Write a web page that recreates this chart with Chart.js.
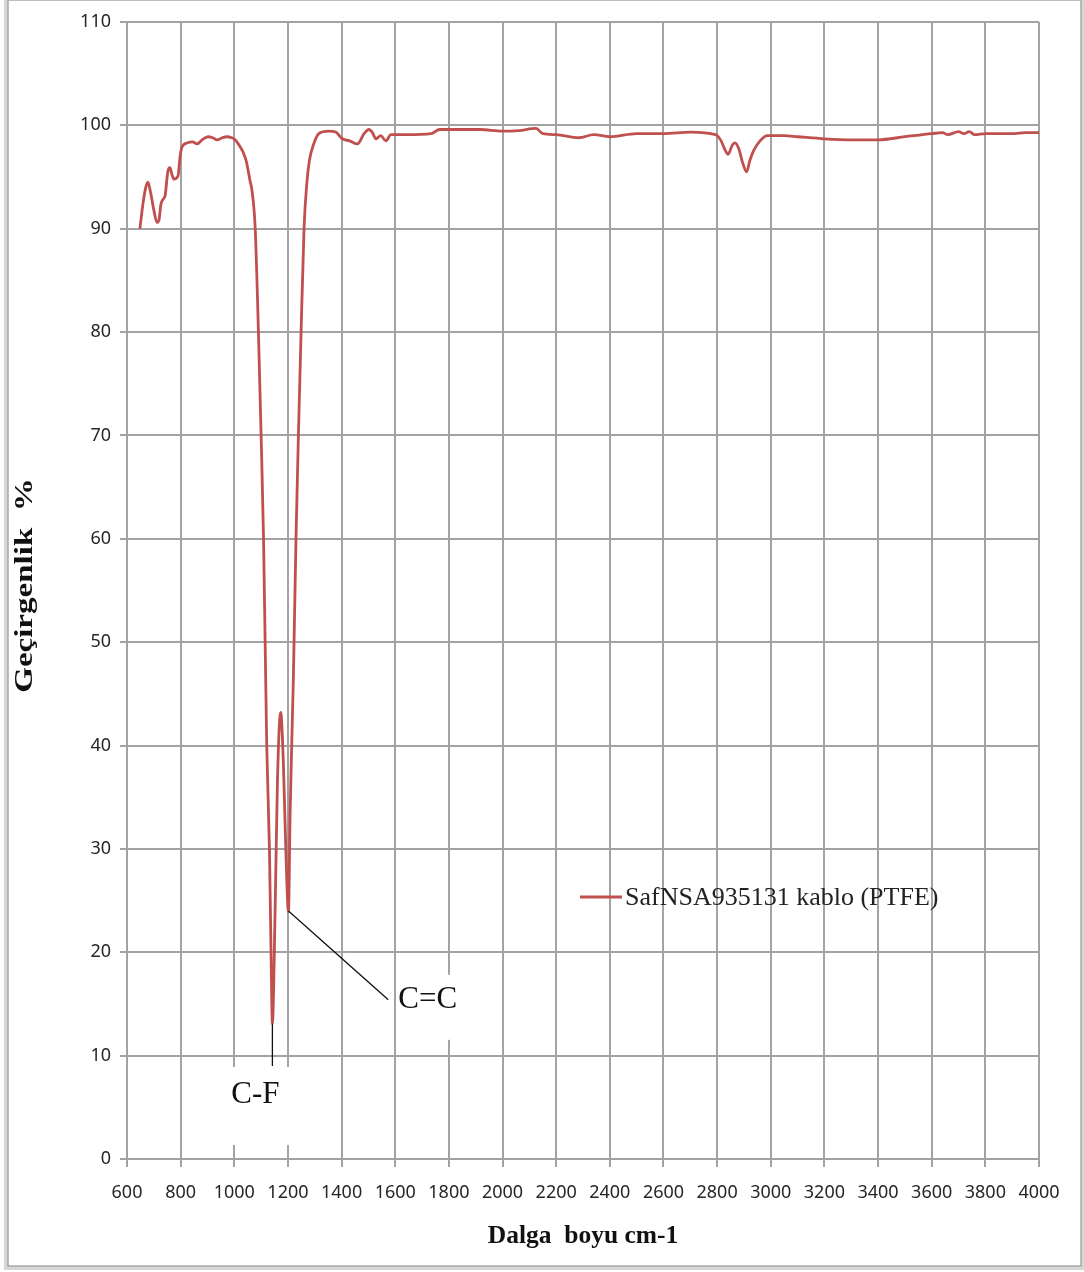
<!DOCTYPE html>
<html>
<head>
<meta charset="utf-8">
<title>Geçirgenlik - PTFE</title>
<script src="https://cdn.jsdelivr.net/npm/chart.js@4.4.1/dist/chart.umd.min.js"></script>
<style>
  html, body { margin: 0; padding: 0; background: #fff; }
  canvas { display: block; }
</style>
</head>
<body>
<canvas id="chart" width="1084" height="1272"></canvas>
<script>
const seriesLabel = 'SafNSA935131 kablo (PTFE)';
const xTitle = 'Dalga  boyu cm-1';
const yTitle = 'Geçirgenlik  %';

const xTickValues = [600, 800, 1000, 1200, 1400, 1600, 1800, 2000, 2200, 2400,
  2600, 2800, 3000, 3200, 3400, 3600, 3800, 4000];
const yTickValues = [0, 10, 20, 30, 40, 50, 60, 70, 80, 90, 100, 110];

// wavenumber (cm-1)
const wavenumbers = [
  648, 660, 670, 678, 688, 700, 712, 719, 726, 733, 742, 752, 760, 768, 775, 790,
  798, 805, 824, 845, 861, 880, 902, 920, 936, 955, 973, 990, 1003, 1020, 1033,
  1045, 1059, 1066, 1078, 1090, 1100, 1109, 1115, 1121, 1131, 1137, 1142,
  1152, 1161, 1173, 1183, 1192, 1202, 1208, 1214, 1220, 1230, 1239, 1249, 1260,
  1270, 1280, 1296, 1315, 1352, 1378, 1403, 1430, 1459, 1484, 1502, 1515, 1528,
  1546, 1565, 1584, 1640, 1734, 1765, 1800, 1915, 2000, 2060, 2125, 2150, 2200,
  2285, 2340, 2400, 2500, 2600, 2700, 2794, 2815, 2830, 2841, 2855, 2866, 2880,
  2895, 2910, 2922, 2937, 2960, 2987, 3050, 3100, 3200, 3300, 3400, 3500, 3600,
  3640, 3660, 3700, 3720, 3740, 3760, 3800, 3850, 3900, 3950, 4000
];
// transmittance (%)
const transmittance = [
  90.0, 92.5, 94.0, 94.5, 93.5, 91.8, 90.6, 90.8, 92.3, 92.8, 93.2, 95.5, 95.9, 95.2, 94.8, 95.1,
  97.0, 97.9, 98.3, 98.4, 98.2, 98.6, 98.9, 98.8, 98.6, 98.8, 98.9, 98.8, 98.6, 98.0, 97.4,
  96.5, 94.6, 93.7, 90.0, 80.0, 70.0, 60.0, 50.0, 40.0, 30.0, 20.0, 13.1,
  23.8, 36.7, 43.2, 38.3, 30.0, 23.9, 33.3, 40.0, 46.3, 60.0, 70.0, 80.0, 90.0,
  94.3, 96.6, 98.2, 99.2, 99.45, 99.35, 98.7, 98.5, 98.2, 99.2, 99.6, 99.3, 98.7,
  99.0, 98.5, 99.1, 99.1, 99.2, 99.6, 99.6, 99.6, 99.45, 99.5, 99.7, 99.2, 99.1,
  98.8, 99.1, 98.9, 99.2, 99.2, 99.35, 99.1, 98.5, 97.6, 97.2, 98.0, 98.3, 97.8,
  96.4, 95.5, 96.6, 97.6, 98.5, 99.0, 99.0, 98.9, 98.7, 98.6, 98.6, 98.9, 99.2,
  99.3, 99.1, 99.4, 99.2, 99.4, 99.1, 99.2, 99.2, 99.2, 99.3, 99.3
];

// band labels: [text, peak x, peak y, label x, label y]
const bandLabels = [
  ['C-F', 1142, 13.1, 1142, 9.0],
  ['C=C', 1202, 24.0, 1574, 15.4]
];

const lineColor = '#c0504d';
const gridColor = '#a3a3a3';
const tickFont = { family: '"Noto Sans", sans-serif', size: 18 };

const framePlugin = {
  id: 'frame',
  beforeDraw(chart) {
    const ctx = chart.ctx;
    ctx.save();
    ctx.fillStyle = '#fff';
    ctx.fillRect(0, 0, chart.width, chart.height);
    ctx.strokeStyle = '#d6d6d6';
    ctx.lineWidth = 4;
    ctx.strokeRect(6, -2, 1077, 1270);
    ctx.strokeStyle = '#a8a8a8';
    ctx.lineWidth = 1.5;
    ctx.strokeRect(8, 0, 1073, 1266);
    ctx.restore();
  }
};

// the y title in the picture is stretched along its length
const yTitlePlugin = {
  id: 'yTitle',
  afterDraw(chart) {
    const ctx = chart.ctx;
    const a = chart.chartArea;
    ctx.save();
    ctx.translate(25, (a.top + a.bottom) / 2 - 5);
    ctx.rotate(-Math.PI / 2);
    ctx.scale(1.27, 1);
    ctx.font = 'bold 26px "Liberation Serif", serif';
    ctx.fillStyle = '#111';
    ctx.textAlign = 'center';
    ctx.textBaseline = 'middle';
    ctx.fillText(yTitle, 0, 0);
    ctx.restore();
  }
};

const bandPlugin = {
  id: 'bands',
  afterDatasetsDraw(chart) {
    const ctx = chart.ctx;
    const xs = chart.scales.x, ys = chart.scales.y;
    ctx.save();
    ctx.font = '31px "Liberation Serif", serif';
    ctx.textBaseline = 'middle';
    bandLabels.forEach(([text, px, py, lx, ly], i) => {
      const x0 = xs.getPixelForValue(px), y0 = ys.getPixelForValue(py);
      const x1 = xs.getPixelForValue(lx), y1 = ys.getPixelForValue(ly);
      ctx.fillStyle = '#fff';
      if (i === 0) {
        ctx.fillRect(x1 - 43, y1 + 1, 64, 78);
      } else {
        ctx.fillRect(x1 + 10, y1 - 25, 66, 65);
      }
      ctx.strokeStyle = '#111';
      ctx.lineWidth = 1.3;
      ctx.beginPath();
      ctx.moveTo(x0, y0);
      ctx.lineTo(x1, y1);
      ctx.stroke();
      ctx.fillStyle = '#111';
      if (i === 0) {
        ctx.textAlign = 'center';
        ctx.fillText(text, x1 - 17, y1 + 29);
      } else {
        ctx.textAlign = 'left';
        ctx.fillText(text, x1 + 10, y1);
      }
    });
    ctx.restore();
  }
};

const legendPlugin = {
  id: 'sideLegend',
  afterDraw(chart) {
    const ctx = chart.ctx;
    const a = chart.chartArea;
    const y = a.top + 875;
    const x = a.left + 453;
    ctx.save();
    ctx.strokeStyle = lineColor;
    ctx.lineWidth = 3;
    ctx.beginPath();
    ctx.moveTo(x, y);
    ctx.lineTo(x + 42, y);
    ctx.stroke();
    ctx.fillStyle = '#222';
    ctx.font = '26px "Liberation Serif", serif';
    ctx.textBaseline = 'middle';
    ctx.textAlign = 'left';
    ctx.fillText(chart.data.datasets[0].label, x + 45, y + 1);
    ctx.restore();
  }
};

new Chart(document.getElementById('chart'), {
  type: 'line',
  data: {
    datasets: [{
      label: seriesLabel,
      data: wavenumbers.map((w, i) => ({ x: w, y: transmittance[i] })),
      borderColor: lineColor,
      borderWidth: 2.8,
      pointRadius: 0,
      cubicInterpolationMode: 'monotone',
      fill: false
    }]
  },
  options: {
    responsive: false,
    animation: false,
    layout: { padding: { top: 22, right: 45, bottom: 0, left: 0 } },
    plugins: {
      legend: { display: false },
      tooltip: { enabled: false }
    },
    scales: {
      x: {
        type: 'linear',
        min: 600,
        max: 4000,
        afterFit: s => { s.height = 113; },
        afterBuildTicks: s => { s.ticks = xTickValues.map(v => ({ value: v })); },
        grid: { color: gridColor, lineWidth: 2, tickLength: 8 },
        border: { color: gridColor, width: 2 },
        ticks: {
          autoSkip: false,
          maxRotation: 0,
          padding: 15,
          color: '#262626',
          font: tickFont,
          callback: v => String(v)
        },
        title: {
          display: true,
          text: xTitle,
          color: '#111',
          padding: { top: 0, bottom: 20 },
          font: { family: '"Liberation Serif", serif', size: 25.5, weight: 'bold' }
        }
      },
      y: {
        min: 0,
        max: 110,
        afterFit: s => { s.width = 127; },
        afterBuildTicks: s => { s.ticks = yTickValues.map(v => ({ value: v })); },
        grid: { color: gridColor, lineWidth: 2, tickLength: 7 },
        border: { color: gridColor, width: 2 },
        ticks: {
          padding: 9,
          color: '#262626',
          font: tickFont,
          callback: v => String(v)
        },
        title: { display: false }
      }
    }
  },
  plugins: [framePlugin, bandPlugin, legendPlugin, yTitlePlugin]
});
</script>
</body>
</html>
